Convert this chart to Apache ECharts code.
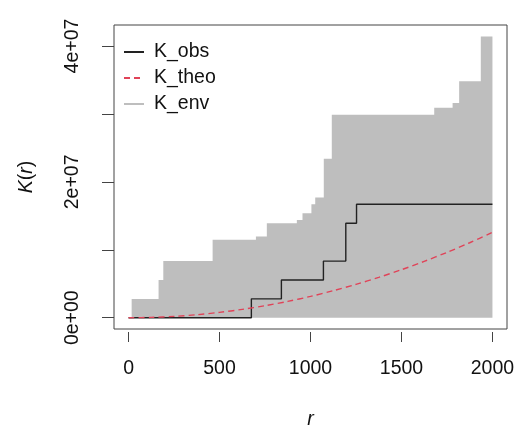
<!DOCTYPE html>
<html>
<head>
<meta charset="utf-8">
<script src="https://cdn.jsdelivr.net/npm/echarts@6/dist/echarts.min.js"></script>
<style>
  html, body { margin: 0; padding: 0; background: #fff; }
  #chart { width: 518px; height: 428px; }
</style>
</head>
<body>
<div id="chart"></div>
<script>
// K_obs step function (value holds from r until the next r)
const rObs = [0, 675, 840, 1071, 1194, 1253, 2000]
const kObs = [0, 2.78e6, 5.56e6, 8.34e6, 13.9e6, 16.7e6, 16.7e6]

// theoretical K
const rTheo = [0, 125, 250, 375, 500, 625, 750, 875, 1000, 1125, 1250, 1375, 1500, 1625, 1750, 1875, 2000]
const kTheo = [0, 0.05e6, 0.2e6, 0.44e6, 0.79e6, 1.23e6, 1.77e6, 2.4e6, 3.14e6, 3.98e6, 4.91e6, 5.94e6, 7.07e6, 8.3e6, 9.62e6, 11.04e6, 12.57e6]

// upper edge of the envelope (lower edge sits at 0)
const rEnv = [0, 17, 165, 191, 462, 700, 760, 925, 956, 1005, 1026, 1073, 1117, 1680, 1781, 1817, 1936, 2000]
const kEnvHi = [0, 2.76e6, 5.56e6, 8.37e6, 11.47e6, 11.96e6, 13.9e6, 14.4e6, 15.4e6, 16.7e6, 17.7e6, 23.4e6, 29.9e6, 30.9e6, 31.6e6, 34.8e6, 41.4e6, 41.4e6]

const xTicks = [0, 500, 1000, 1500, 2000]
const yTicks = [0, 1e7, 2e7, 3e7, 4e7]
const yLabels = [0, 2e7, 4e7]

const FONT = '"Liberation Sans", Arial, sans-serif'
const FS = 19.5

const zip = (xs, ys) => xs.map((x, i) => [x, ys[i]])

// R style 4e+07
const sci = function (v) {
  if (v === 0) return '0e+00'
  const e = Math.floor(Math.log10(Math.abs(v)))
  const m = Math.round(v / Math.pow(10, e))
  return m + 'e' + (e < 0 ? '-' : '+') + String(Math.abs(e)).padStart(2, '0')
}

const option = {
  animation: false,
  textStyle: { fontFamily: FONT },
  grid: {
    left: 114, right: 11, top: 25, bottom: 99,
    show: true, borderColor: '#444', borderWidth: 1,
    outerBoundsMode: 'none',
  },
  legend: {
    orient: 'vertical',
    left: 123, top: 42,
    padding: 0,
    itemWidth: 20, itemHeight: 20, itemGap: 6,
    itemStyle: { opacity: 0 },
    textStyle: { fontSize: FS, fontFamily: FONT, color: '#111', lineHeight: 20, padding: [0, 0, 0, 5] },
    data: [
      { name: 'K_obs' },
      { name: 'K_theo' },
      { name: 'K_env', lineStyle: { color: '#bebebe', width: 2 } },
    ],
  },
  xAxis: {
    type: 'value', min: -80, max: 2080, offset: 3,
    name: 'r', nameLocation: 'middle', nameGap: 78,
    nameTextStyle: { fontSize: FS, fontStyle: 'italic', color: '#111', fontFamily: FONT },
    axisLine: { show: false, onZero: false },
    axisTick: { show: true, length: 10, customValues: xTicks, lineStyle: { color: '#444' } },
    axisLabel: { customValues: xTicks, margin: 27, fontSize: FS, color: '#111', fontFamily: FONT, formatter: (v) => String(v) },
    splitLine: { show: false },
  },
  yAxis: {
    type: 'value', min: -1.66e6, max: 4.31e7,
    name: '{i|K}({i|r})', nameLocation: 'middle', nameGap: 77,
    nameTextStyle: {
      fontSize: FS, color: '#111', fontFamily: FONT,
      rich: { i: { fontSize: FS, fontStyle: 'italic', color: '#111', fontFamily: FONT } },
    },
    axisLine: { show: false, onZero: false },
    axisTick: { show: true, length: 12, customValues: yTicks, lineStyle: { color: '#444' } },
    axisLabel: { customValues: yLabels, rotate: 90, margin: 31, fontSize: FS, color: '#111', fontFamily: FONT, formatter: sci },
    splitLine: { show: false },
  },
  series: [
    {
      name: 'K_env', type: 'line', step: 'end', symbol: 'none',
      data: zip(rEnv, kEnvHi),
      lineStyle: { width: 0, color: '#bebebe' },
      itemStyle: { color: '#bebebe' },
      areaStyle: { color: '#bebebe', opacity: 1 },
      z: 1,
    },
    {
      name: 'K_obs', type: 'line', step: 'end', symbol: 'none',
      data: zip(rObs, kObs),
      lineStyle: { width: 1.4, color: '#222' },
      itemStyle: { color: '#222' },
      z: 2,
    },
    {
      name: 'K_theo', type: 'line', smooth: 0.3, symbol: 'none',
      data: zip(rTheo, kTheo),
      lineStyle: { width: 1.4, color: '#e04358', type: [6, 4] },
      itemStyle: { color: '#e04358' },
      z: 3,
    },
  ],
}

const c = echarts.init(document.getElementById('chart'), null, { renderer: 'canvas' })
c.setOption(option)
</script>
</body>
</html>
